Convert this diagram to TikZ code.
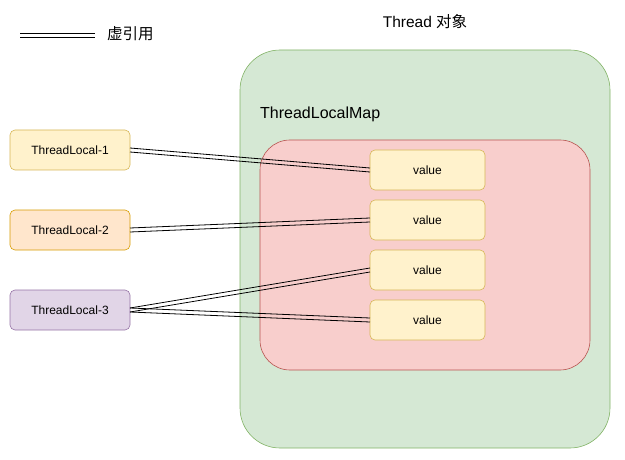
\documentclass[tikz,border=0pt]{standalone}
\usepackage{fontspec}
\setmainfont{Liberation Sans}
\newfontfamily\cjk{Noto Sans CJK SC}
\usetikzlibrary{positioning}

\definecolor{greenfill}{HTML}{D5E8D4}
\definecolor{greenline}{HTML}{82B366}
\definecolor{redfill}{HTML}{F8CECC}
\definecolor{redline}{HTML}{B85450}
\definecolor{yellowfill}{HTML}{FFF2CC}
\definecolor{yellowline}{HTML}{D6B656}
\definecolor{orangefill}{HTML}{FFE6CC}
\definecolor{orangeline}{HTML}{D79B00}
\definecolor{purplefill}{HTML}{E1D5E7}
\definecolor{purpleline}{HTML}{9673A6}

\tikzset{
  box/.style={draw, rounded corners=5pt, minimum width=120pt, minimum height=40pt, inner sep=0pt, outer sep=0pt, font=\fontsize{12}{14}\selectfont, line width=0.6pt},
  valbox/.style={box, fill=yellowfill, draw=yellowline, minimum width=115pt},
  weakref/.style={draw=none, postaction={draw, line width=0.8pt, transform canvas={yshift=2pt}}, postaction={draw, line width=0.8pt, transform canvas={yshift=-2pt}}},
}

\begin{document}
\begin{tikzpicture}[x=1pt, y=-1pt, node distance=10pt]
  \useasboundingbox (0,0) rectangle (625,460);

  % legend
  \coordinate (lega) at (20,35);
  \coordinate (legb) at (95,35);
  \draw[weakref, every postaction/.append style={draw=gray}] (lega) -- (legb);
  \node[anchor=west, inner sep=0pt, font=\fontsize{15.5}{17}\selectfont\cjk] (legtext) at (107,34) {虚引用};

  % Thread object
  \node[font=\fontsize{15.5}{17}\selectfont] (threadlbl) at (425,22) {Thread {\cjk 对象}};
  \node[draw=greenline, fill=greenfill, rounded corners=40pt, minimum width=370pt, minimum height=398pt, anchor=north west, outer sep=0pt, line width=0.6pt] (thread) at (240,50) {};
  \node[anchor=west, inner sep=0pt, font=\fontsize{16}{18}\selectfont] (maplbl) at (260,114) {ThreadLocalMap};
  \node[draw=redline, fill=redfill, rounded corners=30pt, minimum width=330pt, minimum height=230pt, anchor=north west, outer sep=0pt, line width=0.6pt] (map) at (260,140) {};

  % values
  \node[valbox, anchor=north west] (v1) at (370,150) {value};
  \node[valbox] (v2) [below=of v1] {value};
  \node[valbox] (v3) [below=of v2] {value};
  \node[valbox] (v4) [below=of v3] {value};

  % thread locals
  \node[box, fill=yellowfill, draw=yellowline, anchor=north west] (tl1) at (10,130) {ThreadLocal-1};
  \node[box, fill=orangefill, draw=orangeline, anchor=north west] (tl2) at (10,210) {ThreadLocal-2};
  \node[box, fill=purplefill, draw=purpleline, anchor=north west] (tl3) at (10,290) {ThreadLocal-3};

  \draw[weakref] (tl1.east) -- (v1.west);
  \draw[weakref] (tl2.east) -- (v2.west);
  \draw[weakref] (tl3.east) -- (v3.west);
  \draw[weakref] (tl3.east) -- (v4.west);
\end{tikzpicture}
\end{document}
